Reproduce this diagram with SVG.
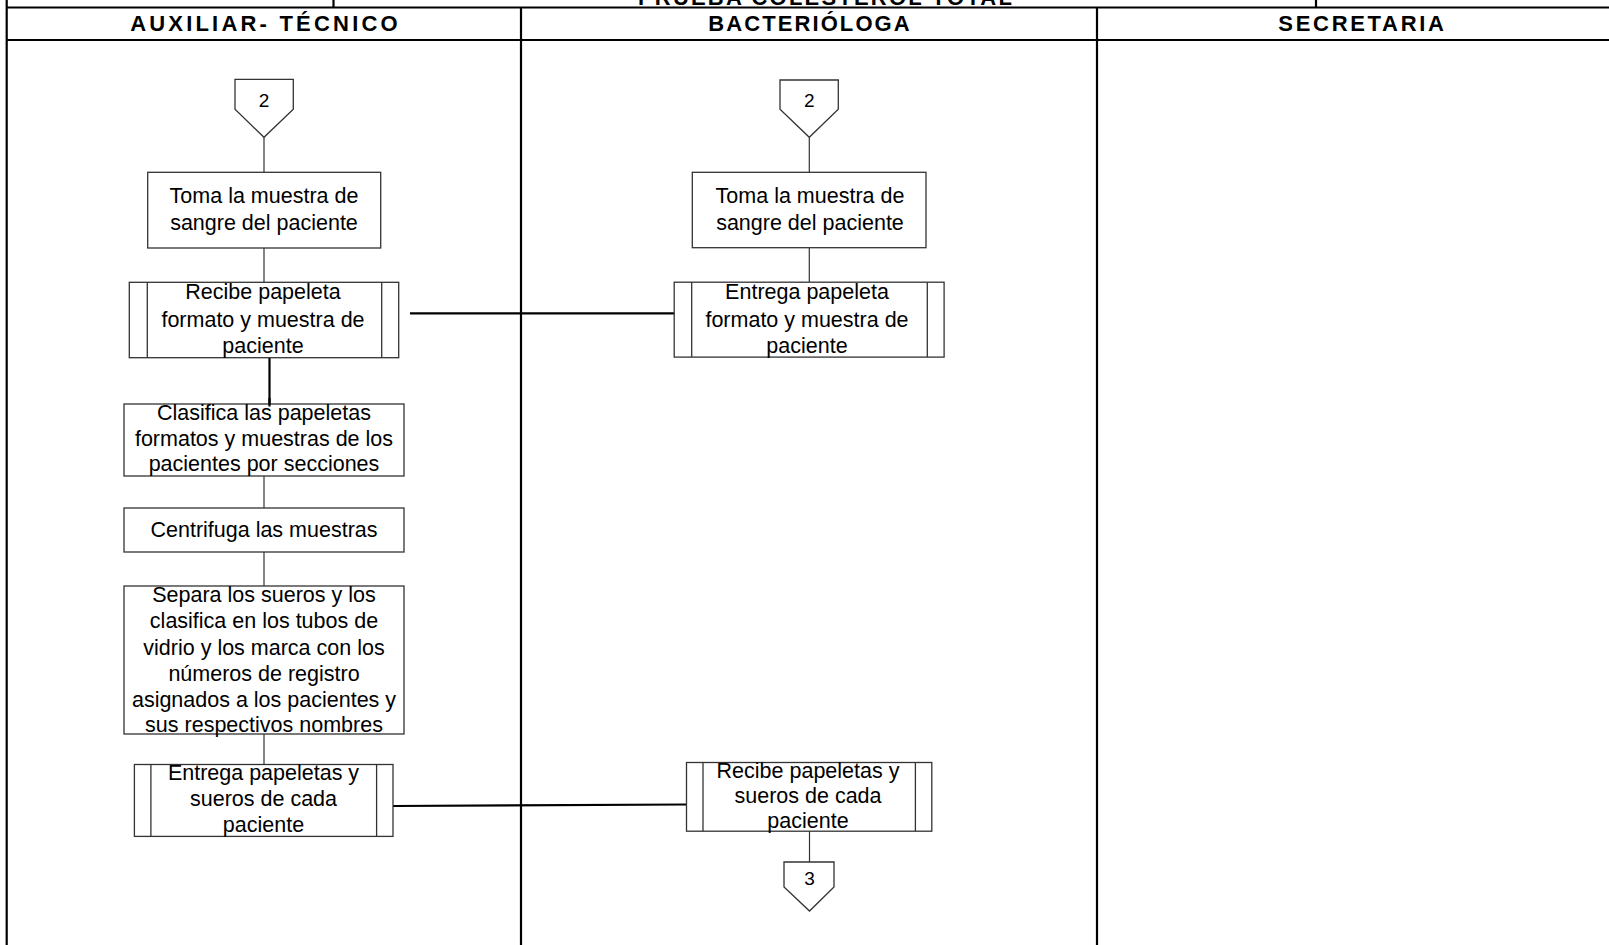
<svg xmlns="http://www.w3.org/2000/svg" width="1609" height="945" viewBox="0 0 1609 945">
<style>
.grid{stroke:#000;stroke-width:2.2;fill:none}
.hdr{font-family:"Liberation Sans",Arial,sans-serif;font-weight:bold;font-size:22px;letter-spacing:2.7px;fill:#000;text-anchor:middle}
.box{fill:#fff;stroke:#333;stroke-width:1.3}
.sub{stroke:#333;stroke-width:1.3;fill:none}
.t{font-family:"Liberation Sans",Arial,sans-serif;font-size:21.5px;fill:#000;text-anchor:middle}
.num{font-family:"Liberation Sans",Arial,sans-serif;font-size:19px;fill:#000;text-anchor:middle}
.c{stroke:#333;stroke-width:1.2;fill:none}
.ck{stroke:#000;stroke-width:2.2;fill:none}
</style>
<rect width="1609" height="945" fill="#fff"/>
<g id="table">
<line class="grid" x1="6.7" y1="0" x2="6.7" y2="945"/>
<line class="grid" x1="6.7" y1="7.5" x2="1609" y2="7.5"/>
<line class="grid" x1="6.7" y1="40" x2="1609" y2="40"/>
<line class="grid" x1="333.5" y1="0" x2="333.5" y2="7.5"/>
<line class="grid" x1="1316" y1="0" x2="1316" y2="7.5"/>
<line class="grid" x1="521" y1="7.5" x2="521" y2="945"/>
<line class="grid" x1="1097" y1="7.5" x2="1097" y2="945"/>
<text class="hdr" x="826" y="4.5" style="letter-spacing:2.2px">PRUEBA COLESTEROL TOTAL</text>
<text class="hdr" x="265.5" y="31" style="letter-spacing:3.2px">AUXILIAR- TÉCNICO</text>
<text class="hdr" x="810" y="31" style="letter-spacing:2.1px">BACTERIÓLOGA</text>
<text class="hdr" x="1362.5" y="31">SECRETARIA</text>
</g>
<g id="connectors">
<line class="c" x1="264" y1="137.3" x2="264" y2="172.3"/>
<line class="c" x1="264" y1="248" x2="264" y2="282.3"/>
<line class="ck" x1="269.5" y1="357.7" x2="269.5" y2="406.5"/>
<line class="c" x1="264" y1="476" x2="264" y2="508"/>
<line class="c" x1="264" y1="552" x2="264" y2="586"/>
<line class="c" x1="264" y1="734" x2="264" y2="764.5"/>
<line class="ck" x1="410" y1="313.3" x2="686" y2="313.3"/>
<line class="ck" x1="393" y1="806" x2="686.5" y2="804.5"/>
<line class="c" x1="809.3" y1="137.3" x2="809.3" y2="172.3"/>
<line class="c" x1="809.3" y1="247.7" x2="809.3" y2="282.2"/>
<line class="c" x1="809.5" y1="831.2" x2="809.5" y2="862"/>
</g>
<g id="off-page-2-a">
<polygon class="box" points="235,79.3 293.3,79.3 293.3,109.3 264,137.3 235,109.3"/>
<text class="num" x="264" y="107">2</text>
</g>
<g id="toma-a">
<rect class="box" x="147.7" y="172.3" width="233" height="75.7"/>
<text class="t" x="264" y="203.3">Toma la muestra de</text>
<text class="t" x="264" y="230">sangre del paciente</text>
</g>
<g id="recibe-papeleta-a">
<rect class="box" x="129.3" y="282.3" width="269.4" height="75.4"/>
<line class="sub" x1="147.3" y1="282.3" x2="147.3" y2="357.7"/>
<line class="sub" x1="381.7" y1="282.3" x2="381.7" y2="357.7"/>
<text class="t" x="263" y="299.3">Recibe papeleta</text>
<text class="t" x="263" y="326.7">formato y muestra de</text>
<text class="t" x="263" y="352.7">paciente</text>
</g>
<g id="clasifica-a">
<rect class="box" x="124" y="404" width="280" height="72"/>
<text class="t" x="264" y="420">Clasifica las papeletas</text>
<text class="t" x="264" y="445.5">formatos y muestras de los</text>
<text class="t" x="264" y="470.7">pacientes por secciones</text>
</g>
<line class="ck" x1="269.5" y1="398" x2="269.5" y2="406.5"/>
<g id="centrifuga-a">
<rect class="box" x="124" y="508" width="280" height="44"/>
<text class="t" x="264" y="536.7">Centrifuga las muestras</text>
</g>
<g id="separa-a">
<rect class="box" x="124" y="586" width="280" height="148"/>
<text class="t" x="264" y="602">Separa los sueros y los</text>
<text class="t" x="264" y="628">clasifica en los tubos de</text>
<text class="t" x="264" y="654.5">vidrio y los marca con los</text>
<text class="t" x="264" y="680.5">números de registro</text>
<text class="t" x="264" y="706.5">asignados a los pacientes y</text>
<text class="t" x="264" y="732">sus respectivos nombres</text>
</g>
<g id="entrega-papeletas-a">
<rect class="box" x="134.4" y="764.5" width="258.6" height="71.9"/>
<line class="sub" x1="150.9" y1="764.5" x2="150.9" y2="836.4"/>
<line class="sub" x1="376.6" y1="764.5" x2="376.6" y2="836.4"/>
<text class="t" x="263.5" y="780">Entrega papeletas y</text>
<text class="t" x="263.5" y="806">sueros de cada</text>
<text class="t" x="263.5" y="832">paciente</text>
</g>
<g id="off-page-2-b">
<polygon class="box" points="780,80 838.3,80 838.3,109.3 809.3,137.3 780,109.3"/>
<text class="num" x="809.3" y="107">2</text>
</g>
<g id="toma-b">
<rect class="box" x="692.3" y="172.3" width="233.7" height="75.4"/>
<text class="t" x="810" y="203.3">Toma la muestra de</text>
<text class="t" x="810" y="230">sangre del paciente</text>
</g>
<g id="entrega-papeleta-b">
<rect class="box" x="674.2" y="282.2" width="269.9" height="74.9"/>
<line class="sub" x1="691.7" y1="282.2" x2="691.7" y2="357.1"/>
<line class="sub" x1="927.3" y1="282.2" x2="927.3" y2="357.1"/>
<text class="t" x="807" y="299.3">Entrega papeleta</text>
<text class="t" x="807" y="326.7">formato y muestra de</text>
<text class="t" x="807" y="352.7">paciente</text>
</g>
<g id="recibe-papeletas-b">
<rect class="box" x="686.5" y="762.5" width="245.3" height="68.7"/>
<line class="sub" x1="703" y1="762.5" x2="703" y2="831.2"/>
<line class="sub" x1="915.4" y1="762.5" x2="915.4" y2="831.2"/>
<text class="t" x="808" y="778">Recibe papeletas y</text>
<text class="t" x="808" y="803">sueros de cada</text>
<text class="t" x="808" y="827.5">paciente</text>
</g>
<g id="off-page-3">
<polygon class="box" points="784,862 834,862 834,887 809.5,911 784,887"/>
<text class="num" x="809.5" y="885">3</text>
</g>
</svg>
